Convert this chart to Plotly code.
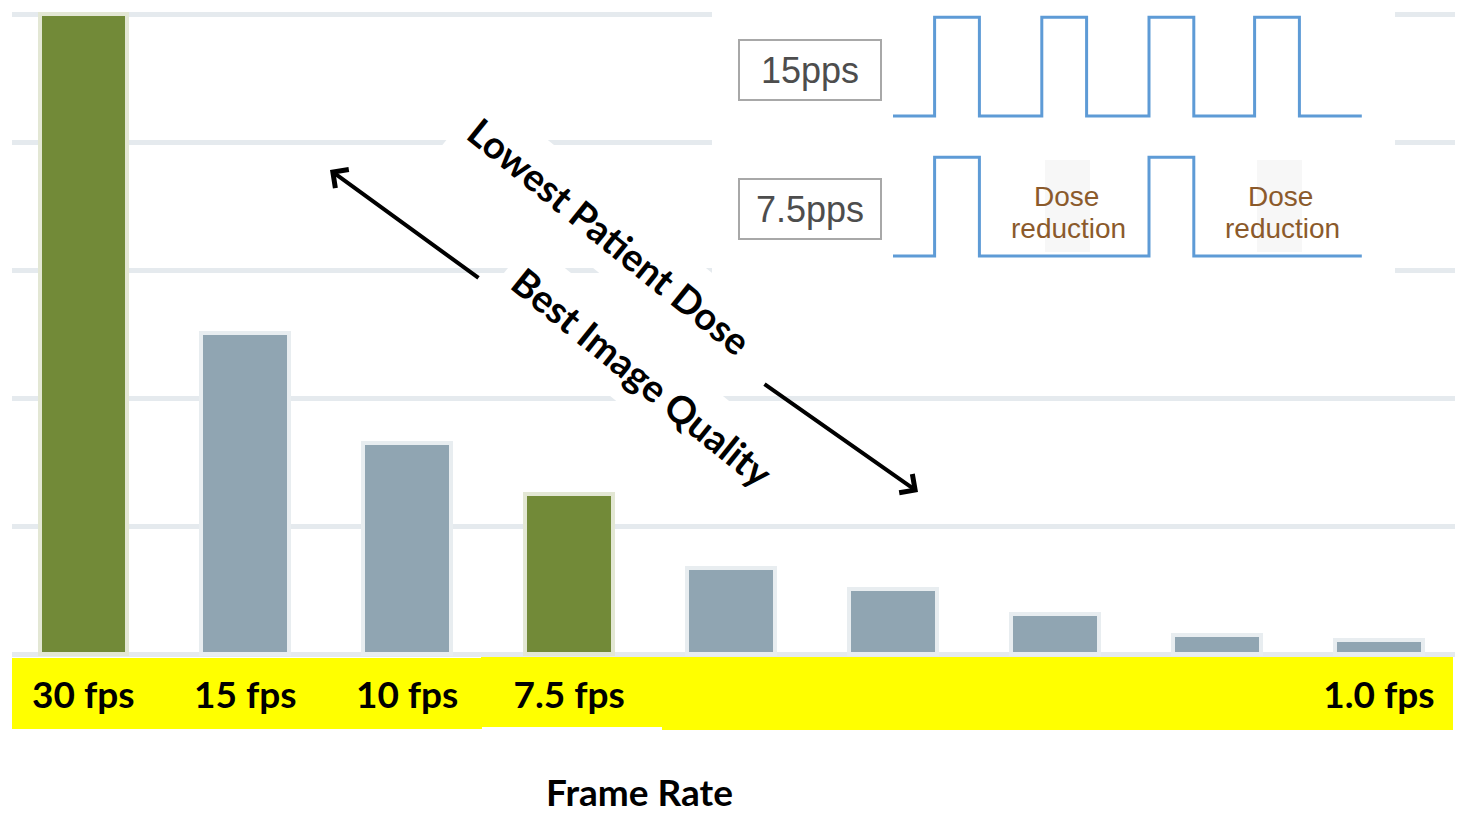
import plotly.graph_objects as go

# ---------------- data ----------------
bar_positions = [0, 1, 2, 3, 4, 5, 6, 7, 8]
bar_labels = ["30 fps", "15 fps", "10 fps", "7.5 fps", "", "", "", "", "1.0 fps"]
bar_values = [100, 50.2, 33.0, 25.0, 13.4, 10.2, 6.2, 3.0, 2.2]
bar_highlight = [True, False, False, True, False, False, False, False, False]

# pulse diagram (time in ms, level 0/1)
pulse15_t = [0, 26, 54, 93, 121, 160, 188, 226, 254, 293]
pulse15_v = [0, 1, 0, 1, 0, 1, 0, 1, 0, 0]
pulse75_t = [0, 26, 54, 160, 188, 293]
pulse75_v = [0, 1, 0, 1, 0, 0]

W, H = 1459, 817
GREEN = "#728a38"
GREY = "#90a5b2"
GREEN_HALO = "#e3e7d4"
GREY_HALO = "#e8edf0"
GRID = "#e5eaee"
PULSE = "#5e9bd6"


def px(x):
    return x / W


def py(y):
    return 1 - y / H


fig = go.Figure()

fig.add_trace(go.Bar(
    x=bar_positions, y=bar_values, width=0.54,
    marker=dict(color=[GREEN if h else GREY for h in bar_highlight],
                line=dict(color=[GREEN_HALO if h else GREY_HALO for h in bar_highlight], width=4)),
    xaxis="x", yaxis="y", showlegend=False, hoverinfo="skip"))

fig.add_trace(go.Scatter(x=pulse15_t, y=pulse15_v, mode="lines", line=dict(color=PULSE, width=3, shape="hv"),
                         xaxis="x2", yaxis="y2", showlegend=False, hoverinfo="skip"))
fig.add_trace(go.Scatter(x=pulse75_t, y=pulse75_v, mode="lines", line=dict(color=PULSE, width=3, shape="hv"),
                         xaxis="x3", yaxis="y3", showlegend=False, hoverinfo="skip"))

# main axes geometry
x_lo, x_hi = -0.44, 8.47
y_top_px, y0_px, y100_px = 8, 654, 14
ppu = (y0_px - y100_px) / 100.0
y_min = -0.5
y_max = (y0_px - y_top_px) / ppu
y_bot_px = y0_px + (-y_min) * ppu

fmt_font = dict(family="Lato", size=37, color="black", weight="bold")

inset_x = [px(712), px(1395)]
inset_range_x = [(712 - 893) / 1.6, (1395 - 893) / 1.6]
inset_range_y = [-0.243, 1.175]

fig.update_layout(
    width=W, height=H, autosize=False,
    margin=dict(l=0, r=0, t=0, b=0, pad=0),
    paper_bgcolor="white", plot_bgcolor="white",
    bargap=0,
    xaxis=dict(domain=[px(12), px(1455)], range=[x_lo, x_hi],
               tickmode="array", tickvals=bar_positions, ticktext=bar_labels,
               tickfont=fmt_font, showgrid=False, zeroline=False, showline=False,
               ticks="", ticklabelstandoff=13, fixedrange=True),
    yaxis=dict(domain=[py(y_bot_px), py(y_top_px)], range=[y_min, y_max],
               tickmode="linear", tick0=0, dtick=20, showticklabels=False,
               showgrid=True, gridcolor=GRID, gridwidth=5, zeroline=False, showline=False,
               ticks="", fixedrange=True),
    xaxis2=dict(domain=inset_x, range=inset_range_x, visible=False, anchor="y2", fixedrange=True),
    yaxis2=dict(domain=[py(140), py(0)], range=inset_range_y, visible=False, anchor="x2", fixedrange=True),
    xaxis3=dict(domain=inset_x, range=inset_range_x, visible=False, anchor="y3", fixedrange=True),
    yaxis3=dict(domain=[py(280), py(140)], range=inset_range_y, visible=False, anchor="x3", fixedrange=True),
)

# yellow label band
for (x0, x1, y0, y1) in [(12, 482, 658, 729), (481, 663, 655, 727), (662, 1453, 656, 730)]:
    fig.add_shape(type="rect", xref="paper", yref="paper", x0=px(x0), x1=px(x1), y0=py(y1), y1=py(y0),
                  fillcolor="#ffff00", line=dict(width=0), layer="below")

# faint dotted areas behind "Dose reduction"
for (x0, x1) in [(1045, 1090), (1257, 1302)]:
    fig.add_shape(type="rect", xref="paper", yref="paper", x0=px(x0), x1=px(x1), y0=py(252), y1=py(160),
                  fillcolor="rgba(0,0,0,0.03)", line=dict(width=0), layer="above")

C = dict(xref="paper", yref="paper", xanchor="center", yanchor="middle")
ann = []
# rotated texts
ann.append(dict(text="Lowest Patient Dose", x=px(610), y=py(236), showarrow=False, textangle=39,
                bgcolor="white", borderpad=12,
                font=dict(family="Lato", size=38, color="black", weight="bold"), **C))
ann.append(dict(text="Best Image Quality", x=px(643), y=py(377), showarrow=False, textangle=39,
                bgcolor="white", borderpad=12,
                font=dict(family="Lato", size=38, color="black", weight="bold"), **C))
# arrows
ann.append(dict(text="", x=px(330), y=py(170), showarrow=True,
                ax=150, ay=109, axref="pixel", ayref="pixel", arrowhead=4, arrowsize=1.1, arrowwidth=4,
                arrowcolor="black", standoff=0, startstandoff=0, **C))
ann.append(dict(text="", x=px(918), y=py(492), showarrow=True,
                ax=-155, ay=-109, axref="pixel", ayref="pixel", arrowhead=4, arrowsize=1.1, arrowwidth=4,
                arrowcolor="black", standoff=0, startstandoff=0, **C))
# inset labels
for label, yc in [("15pps", 70.5), ("7.5pps", 209)]:
    ann.append(dict(text=label, x=px(810), y=py(yc), showarrow=False,
                    width=140, height=58, borderpad=0, bordercolor="#a8a8a8", borderwidth=2, bgcolor="white",
                    font=dict(family="Liberation Sans", size=36, color="#4d4d4d"), **C))
for xc in [1066, 1280]:
    ann.append(dict(text="Dose", x=px(xc), y=py(197), showarrow=False,
                    font=dict(family="Liberation Sans", size=28, color="#8b5a2b"), **C))
    ann.append(dict(text="reduction", x=px(xc + 2), y=py(228), showarrow=False,
                    font=dict(family="Liberation Sans", size=28, color="#8b5a2b"), **C))
# axis title
ann.append(dict(text="Frame Rate", x=px(639), y=py(791), showarrow=False, borderpad=0,
                font=dict(family="Lato", size=37, color="black", weight="bold"), **C))

fig.update_layout(annotations=ann)

fig.write_html("out.html", config={"displayModeBar": False},
               post_script="document.body.style.margin='0px';document.body.style.overflow='hidden';")
